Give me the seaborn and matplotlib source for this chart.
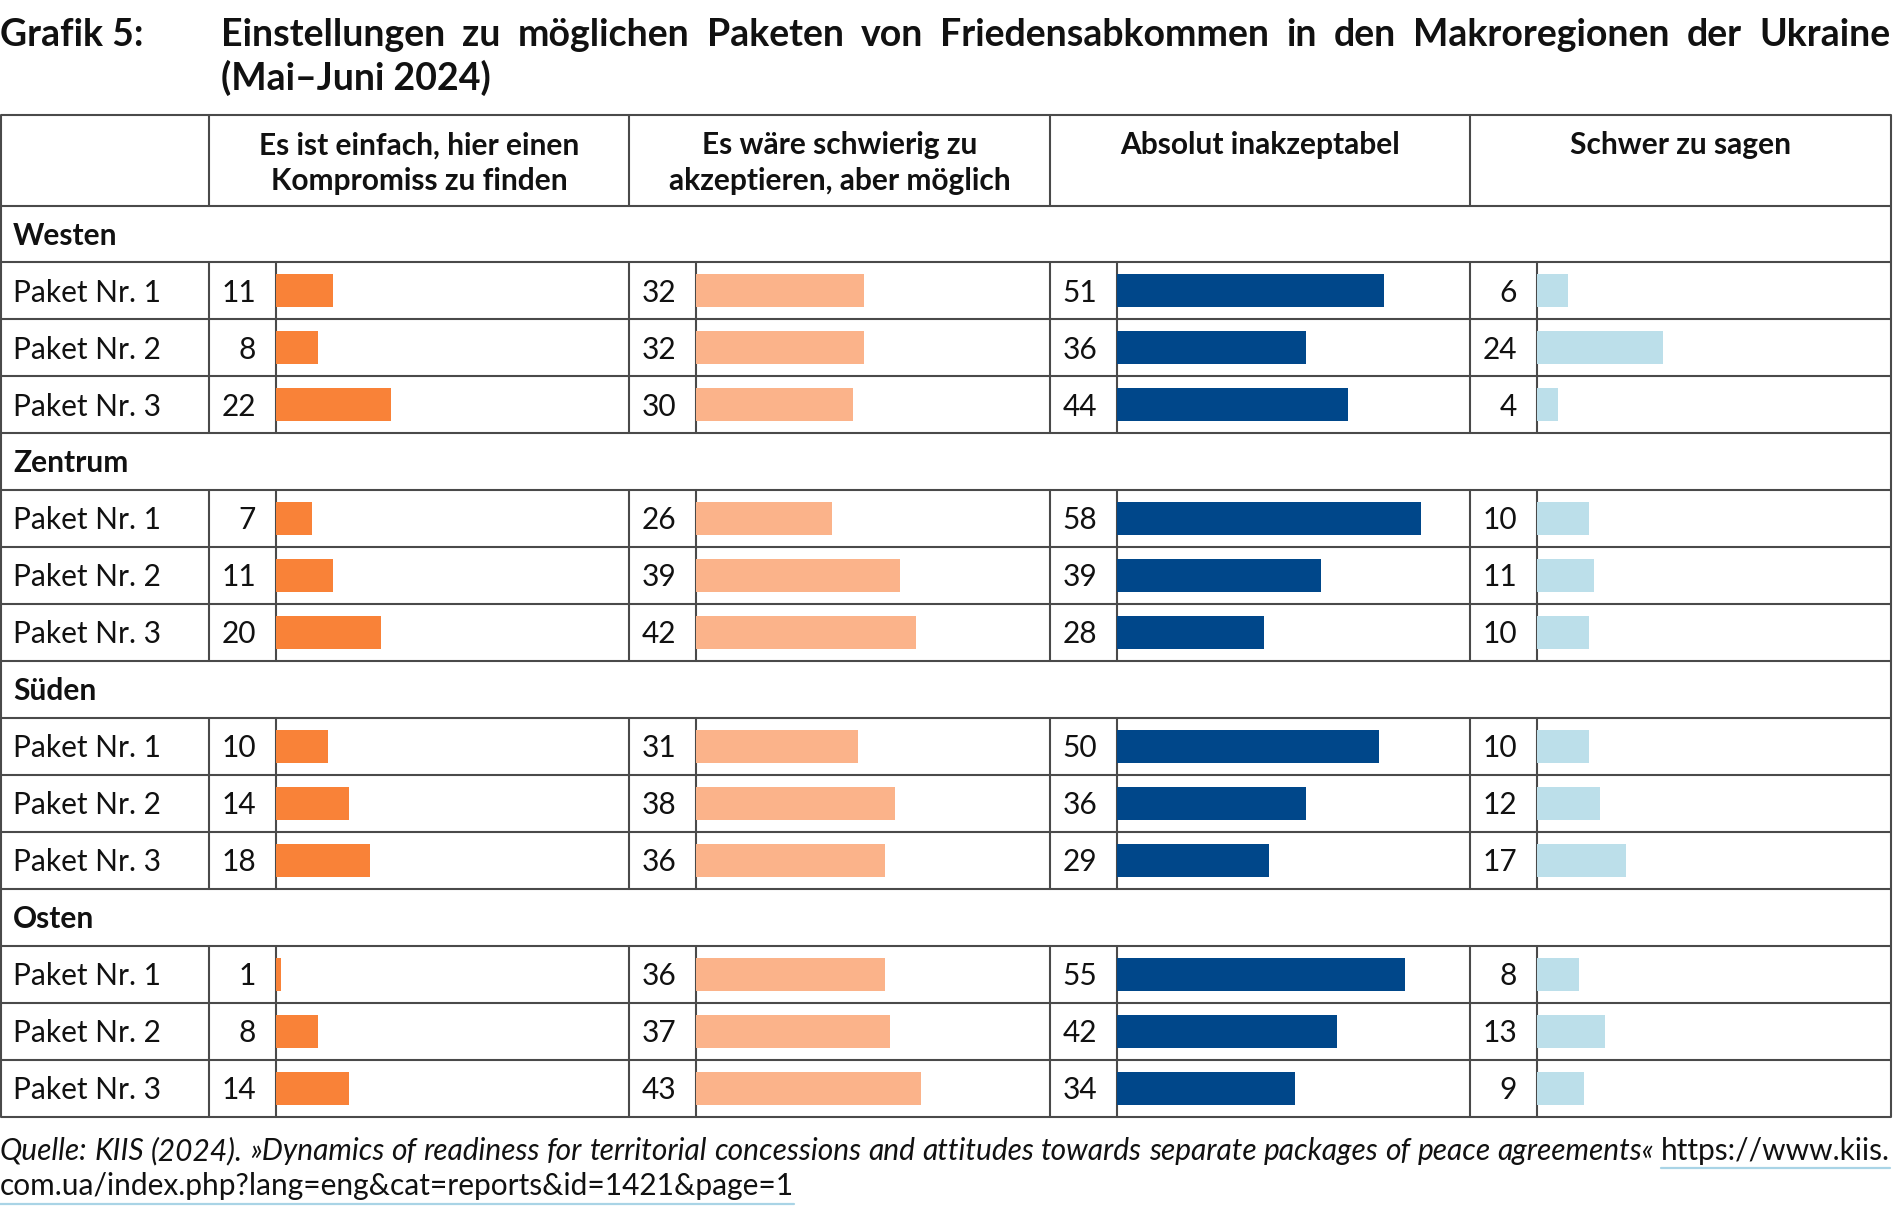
import matplotlib
matplotlib.use("Agg")
import matplotlib.pyplot as plt
import seaborn as sns
import pandas as pd

# ---------------- data ----------------
regions = ["Westen", "Zentrum", "Süden", "Osten"]
packages = ["Paket Nr. 1", "Paket Nr. 2", "Paket Nr. 3"]
categories = [
    "Es ist einfach, hier einen\nKompromiss zu finden",
    "Es wäre schwierig zu\nakzeptieren, aber möglich",
    "Absolut inakzeptabel",
    "Schwer zu sagen",
]
easy = [11, 8, 22, 7, 11, 20, 10, 14, 18, 1, 8, 14]
difficult = [32, 32, 30, 26, 39, 42, 31, 38, 36, 36, 37, 43]
unacceptable = [51, 36, 44, 58, 39, 28, 50, 36, 29, 55, 42, 34]
hard_to_say = [6, 24, 4, 10, 11, 10, 10, 12, 17, 8, 13, 9]
series = [easy, difficult, unacceptable, hard_to_say]
colors = ["#F98238", "#FBB38A", "#00478A", "#BCDFEA"]

title_label = "Grafik 5:"
title_line1 = "Einstellungen zu möglichen Paketen von Friedensabkommen in den Makroregionen der Ukraine"
title_line2 = "(Mai–Juni 2024)"
source_italic = "Quelle: KIIS (2024). »Dynamics of readiness for territorial concessions and attitudes towards separate packages of peace agreements«"
source_link1 = "https://www.kiis."
source_link2 = "com.ua/index.php?lang=eng&cat=reports&id=1421&page=1"

# ---------------- long table ----------------
row_order = []
records = []
for ri, reg in enumerate(regions):
    row_order.append(reg)
    for pi, pkg in enumerate(packages):
        key = f"{reg}|{pkg}"
        row_order.append(key)
        for ci, cat in enumerate(categories):
            records.append({"row": key, "cat": ci, "value": series[ci][ri * 3 + pi]})
df = pd.DataFrame(records)

# ---------------- layout (pixels) ----------------
W, H = 1893, 1214
FONT = "Lato"
TXT = "#111111"
LINE = "#4a4a4a"
LW = 1.5

sns.set_theme(style="white")
plt.rcParams["font.family"] = [FONT, "DejaVu Sans"]

fig = plt.figure(figsize=(W / 100, H / 100), dpi=100)
bg = fig.add_axes([0, 0, 1, 1])
bg.set_xlim(0, W)
bg.set_ylim(H, 0)
bg.axis("off")

table_top = 114.5
header_bot = 205.5
row_h = 56.95
n_rows = len(row_order)
table_bot = header_bot + n_rows * row_h
x_left, x_right = 1, 1891
col_start = [209, 629, 1050, 1470]
col_end = [629, 1050, 1470, 1891]
num_w = 66.5
px_per_unit = 5.25

# horizontal lines
ys = [table_top, header_bot] + [header_bot + (i + 1) * row_h for i in range(n_rows)]
for y in ys:
    bg.plot([x_left, x_right], [y, y], color=LINE, lw=LW, solid_capstyle="butt")
# border verticals
for x in (x_left, x_right):
    bg.plot([x, x], [table_top, table_bot], color=LINE, lw=LW)
# header verticals
for x in col_start:
    bg.plot([x, x], [table_top, header_bot], color=LINE, lw=LW)
# package row verticals
for i, key in enumerate(row_order):
    if "|" not in key:
        continue
    y0 = header_bot + i * row_h
    y1 = y0 + row_h
    for x in col_start:
        bg.plot([x, x], [y0, y1], color=LINE, lw=LW)
        bg.plot([x + num_w, x + num_w], [y0, y1], color=LINE, lw=LW)

# ---------------- texts ----------------
FS = 21.5


def base(yc, fs=FS):
    return yc + 0.7165 * fs * 100 / 72 / 2


for i, key in enumerate(row_order):
    yc = header_bot + (i + 0.5) * row_h
    if "|" not in key:
        bg.text(13, base(yc), key, fontsize=FS, fontweight="bold", color=TXT, va="baseline", ha="left")
    else:
        reg, pkg = key.split("|")
        bg.text(13, base(yc), pkg, fontsize=FS, color=TXT, va="baseline", ha="left")
        ri = regions.index(reg)
        pi = packages.index(pkg)
        for ci in range(4):
            v = series[ci][ri * 3 + pi]
            bg.text(col_start[ci] + 47, base(yc), str(v), fontsize=FS, color=TXT,
                    va="baseline", ha="right")

# header
HFS = 21.5
for ci, cat in enumerate(categories):
    xc = (col_start[ci] + col_end[ci]) / 2
    for li, line in enumerate(cat.split("\n")):
        yc = 143.5 + li * 35.5
        bg.text(xc, base(yc, HFS), line, fontsize=HFS, fontweight="bold", color=TXT,
                va="baseline", ha="center")

renderer = fig.canvas.get_renderer()


def justify(parts, x0, x1, y):
    texts = []
    for word, kw in parts:
        texts.append(bg.text(0, y, word, va="baseline", ha="left", color=TXT, **kw))
    widths = [t.get_window_extent(renderer).width for t in texts]
    gap = (x1 - x0 - sum(widths)) / (len(texts) - 1)
    x = x0
    out = []
    for t, w in zip(texts, widths):
        t.set_x(x)
        out.append((x, x + w))
        x += w + gap
    return out


# title
TFS = 27
bg.text(0, 46, title_label, fontsize=TFS, fontweight="bold", color=TXT, va="baseline")
justify([(w, dict(fontsize=TFS, fontweight="bold")) for w in title_line1.split(" ")], 221, 1890, 46)
bg.text(221, 89.5, title_line2, fontsize=TFS, fontweight="bold", color=TXT, va="baseline")

# source
SFS = 21.5
parts = [(w, dict(fontsize=SFS, fontstyle="italic")) for w in source_italic.split(" ")]
parts.append((source_link1, dict(fontsize=SFS)))
spans = justify(parts, 0, 1890, 1160)
lx0, lx1 = spans[-1]
bg.plot([lx0, lx1], [1168, 1168], color="#A9D4E6", lw=1.6)
t2 = bg.text(0, 1195, source_link2, fontsize=SFS, color=TXT, va="baseline")
w2 = t2.get_window_extent(renderer).width
bg.plot([0, w2], [1204, 1204], color="#A9D4E6", lw=1.6)

# ---------------- bars ----------------
for ci in range(4):
    bx0 = col_start[ci] + num_w
    bx1 = col_end[ci]
    ax = fig.add_axes([bx0 / W, 1 - table_bot / H, (bx1 - bx0) / W, (table_bot - header_bot) / H])
    sub = df[df["cat"] == ci]
    sns.barplot(data=sub, x="value", y="row", order=row_order, orient="h",
                color=colors[ci], saturation=1, width=0.58, errorbar=None, ax=ax)
    ax.set_xlim(0, (bx1 - bx0) / px_per_unit)
    ax.set_ylim(n_rows - 0.5, -0.5)
    ax.axis("off")
    ax.patch.set_alpha(0)
    for p in ax.patches:
        p.set_linewidth(0)

fig.savefig("out.png", dpi=100)
